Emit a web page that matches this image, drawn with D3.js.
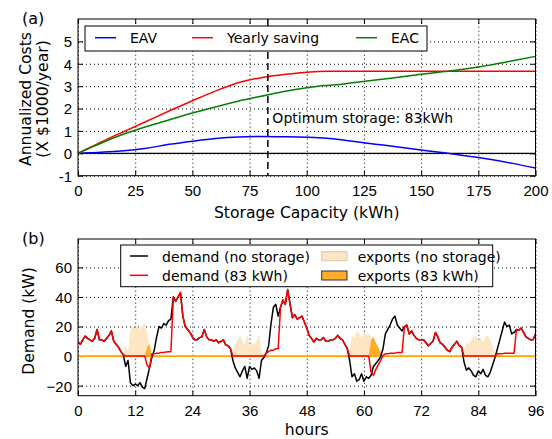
<!DOCTYPE html>
<html>
<head>
<meta charset="utf-8">
<script src="https://cdn.jsdelivr.net/npm/d3@7"></script>
<style>
  body { margin: 0; background: #fff; }
  svg { font-family: "DejaVu Sans", sans-serif; }
</style>
</head>
<body>
<svg id="chart" width="552" height="439"></svg>
<script>
// (a) annualized costs vs storage capacity
const capacity = [0, 5, 10, 20, 30, 40, 50, 60, 70, 80, 90, 100, 105, 110, 120, 130, 140, 150, 160, 170, 180, 190, 200];
const saving   = [0, 0.25, 0.5, 0.97, 1.43, 1.9, 2.35, 2.78, 3.15, 3.38, 3.52, 3.62, 3.66, 3.67, 3.67, 3.67, 3.67, 3.67, 3.67, 3.67, 3.67, 3.67, 3.67];
const eac      = [0, 0.23, 0.45, 0.86, 1.2, 1.5, 1.8, 2.07, 2.33, 2.55, 2.76, 2.93, 3.0, 3.04, 3.15, 3.27, 3.4, 3.53, 3.65, 3.78, 3.94, 4.13, 4.33];
const eav      = [0, 0.02, 0.05, 0.11, 0.23, 0.4, 0.54, 0.66, 0.73, 0.75, 0.74, 0.72, 0.7, 0.66, 0.54, 0.41, 0.28, 0.15, 0.02, -0.12, -0.27, -0.45, -0.66];
const capTicks = [0, 25, 50, 75, 100, 125, 150, 175, 200];
const costTicks = [-1, 0, 1, 2, 3, 4, 5];
const optimum = 83;

// (b) half-hourly demand over four days
const demandNoStorage = [
  9.7, 8, 11, 13.5, 12, 11, 10, 12, 18, 11, 11, 10, 12, 14, 17, 10, 8, 6, 3, 1,
  -7, -3, -18, -20, -19, -20, -18, -21, -22, -15, -8, -1, 4, 13, 20, 19, 22, 21, 24, 25,
  40, 37, 40, 43, 27, 20, 18, 16,
  13, 11, 11, 12.5, 13, 18, 13, 11, 11, 10, 11, 9, 10, 11, 7.5, 7, 5, -3, -8, -11,
  -14, -10, -7, -15, -7, -9, -8, -10, -15, -3, -1, 2, 7, 22, 33, 35, 27, 33, 38, 35,
  45, 35, 26, 28, 25, 26, 27, 23,
  19, 14, 12, 9.5, 12, 11, 11, 12.5, 10, 10, 11, 11, 12, 14, 12, 11, 8, 5, -3, -14,
  -12, -17, -16, -12, -17, -14, -15, -13, -7, -5, -3, -0.5, 5, 15, 18, 21, 25, 27, 21, 19,
  17, 20, 21, 15, 17, 14, 12, 11,
  11, 11, 9, 7, 8.5, 10, 16, 13, 9, 8, 6, 4, 3, 6, 8, 10, 7, 6, -4, -9.5,
  -8, -10, -13, -14, -10, -12, -9, -13, -14, -11, -6, -1, 5, 11, 17, 23, 20, 21, 15, 16,
  18, 17.5, 19, 16, 13, 12, 11, 11, 15
];
const demand83 = [
  9.7, 8, 11, 13.5, 12, 11, 10, 12, 18, 11, 11, 10, 12, 14, 17, 10, 8, 6, 3, 1,
  0, 0, 0, 0, 0, 0, 0, 0, 0, -6, -8, 1.5, 1.5, 2, 2, 2.5, 2.5, 2.8, 3, 3,
  40, 37, 40, 43, 27, 20, 18, 16,
  13, 11, 11, 12.5, 13, 18, 13, 11, 11, 10, 11, 9, 10, 11, 7.5, 7, 5, 0, 0, 0,
  0, 0, 0, 0, 0, 0, 0, 0, 0, 0, 0, 2, 3, 4, 4, 5, 5, 33, 38, 35,
  45, 35, 26, 28, 25, 26, 27, 23,
  19, 14, 12, 9.5, 12, 11, 11, 12.5, 10, 10, 11, 11, 12, 14, 12, 11, 8, 5, 0, 0,
  0, 0, 0, 0, 0, 0, 0, -11, -13, -9, -6, -3, 0.5, 1.5, 1.5, 2, 2, 2, 2.5, 2.5,
  2.5, 20, 21, 15, 17, 14, 12, 11,
  11, 11, 9, 7, 8.5, 10, 16, 13, 9, 8, 6, 4, 3, 6, 8, 10, 7, 6, 0, 0,
  0, 0, 0, 0, 0, 0, 0, 0, 0, 0, 0, 0, 1.5, 1.5, 1.5, 2, 2, 2, 2, 2,
  18, 17.5, 19, 16, 13, 12, 11, 11, 15
];
const hours = d3.range(0, 96.5, 0.5);
const hourTicks = [0, 12, 24, 36, 48, 60, 72, 84, 96];
const demandTicks = [-20, 0, 20, 40, 60];

const svg = d3.select("#chart");
const left = 78, right = 535.5, plotH = 156.7;

// frame, dotted grid and inward ticks on all four sides
function frame(g, x, y, xt, yt, fmtY, w, h) {
  g.append("g").attr("transform", `translate(0,${h})`)
    .call(d3.axisBottom(x).tickValues(xt).tickSize(-h).tickFormat(""))
    .call(a => a.select(".domain").remove())
    .selectAll("line").attr("stroke", "#000").attr("stroke-dasharray", "1,3");
  g.append("g")
    .call(d3.axisLeft(y).tickValues(yt).tickSize(-w).tickFormat(""))
    .call(a => a.select(".domain").remove())
    .selectAll("line").attr("stroke", "#000").attr("stroke-dasharray", "1,3");

  const bx = g.append("g").attr("transform", `translate(0,${h})`)
    .call(d3.axisBottom(x).tickValues(xt).tickSizeInner(-5).tickSizeOuter(0).tickPadding(20.8));
  bx.selectAll("text").attr("dy", "0").attr("font-size", 15).attr("fill", "#000");
  const ly = g.append("g")
    .call(d3.axisLeft(y).tickValues(yt).tickSizeInner(-5).tickSizeOuter(0).tickPadding(6).tickFormat(fmtY));
  ly.selectAll("text").attr("font-size", 15).attr("fill", "#000").attr("dy", "0.36em");
  g.append("g").call(d3.axisTop(x).tickValues(xt).tickSizeInner(-5).tickSizeOuter(0).tickFormat(""));
  g.append("g").attr("transform", `translate(${w},0)`)
    .call(d3.axisRight(y).tickValues(yt).tickSizeInner(-5).tickSizeOuter(0).tickFormat(""));
  g.selectAll(".domain").remove();
  g.selectAll(".tick line").filter(function () { return !this.getAttribute("stroke-dasharray"); })
    .attr("stroke", "#000");
}

function border(g, w, h) {
  g.append("rect").attr("width", w).attr("height", h)
    .attr("fill", "none").attr("stroke", "#000").attr("stroke-width", 1);
}

// ---------- (a) ----------
{
  const top = 19, w = right - left, h = plotH;
  const g = svg.append("g").attr("transform", `translate(${left},${top})`);
  const x = d3.scaleLinear().domain([0, 200]).range([0, w]);
  const y = d3.scaleLinear().domain([-1, 6]).range([h, 0]);

  frame(g, x, y, capTicks, costTicks, d => String(d), w, h);

  g.append("line").attr("x1", 0).attr("x2", w).attr("y1", y(0)).attr("y2", y(0))
    .attr("stroke", "#000").attr("stroke-width", 1.2);

  const series = [
    { name: "EAV", values: eav, color: "#0000ff" },
    { name: "Yearly saving", values: saving, color: "#ff0000" },
    { name: "EAC", values: eac, color: "#008000" }
  ];
  const line = vals => d3.line().x((d, i) => x(capacity[i])).y(d => y(d)).curve(d3.curveMonotoneX)(vals);
  series.forEach(s => {
    g.append("path").attr("d", line(s.values)).attr("fill", "none")
      .attr("stroke", s.color).attr("stroke-width", 1.5);
  });

  g.append("line").attr("x1", x(optimum)).attr("x2", x(optimum)).attr("y1", 0).attr("y2", h)
    .attr("stroke", "#000").attr("stroke-width", 1.5).attr("stroke-dasharray", "7,4");
  g.append("text").attr("x", x(optimum) + 4.5).attr("y", 103.7)
    .attr("font-size", 14).text(`Optimum storage: ${optimum}kWh`);

  // legend
  const lg = g.append("g").attr("transform", "translate(7,7)");
  lg.append("rect").attr("width", 342).attr("height", 25).attr("fill", "#fff").attr("stroke", "#000");
  const lx = [10, 107, 271];
  series.forEach((s, i) => {
    lg.append("line").attr("x1", lx[i]).attr("x2", lx[i] + 21).attr("y1", 11.7).attr("y2", 11.7)
      .attr("stroke", s.color).attr("stroke-width", 1.5);
    lg.append("text").attr("x", lx[i] + 35).attr("y", 16.7).attr("font-size", 14).text(s.name);
  });

  border(g, w, h);

  svg.append("text").attr("x", 22).attr("y", 24).attr("font-size", 16).text("(a)");
  svg.append("text").attr("x", (left + right) / 2).attr("y", 217.5).attr("text-anchor", "middle")
    .attr("font-size", 15.6).text("Storage Capacity (kWh)");
  svg.append("text").attr("transform", "translate(31,99) rotate(-90)").attr("text-anchor", "middle")
    .attr("font-size", 15.6).text("Annualized Costs");
  svg.append("text").attr("transform", "translate(48,99) rotate(-90)").attr("text-anchor", "middle")
    .attr("font-size", 15.6).text("(X $1000/year)");
}

// ---------- (b) ----------
{
  const top = 239, w = right - left, h = plotH;
  const g = svg.append("g").attr("transform", `translate(${left},${top})`);
  const x = d3.scaleLinear().domain([0, 96]).range([0, w]);
  const y = d3.scaleLinear().domain([-26.8, 79.2]).range([h, 0]);

  frame(g, x, y, hourTicks, demandTicks, d3.format(""), w, h);

  g.append("clipPath").attr("id", "clipb").append("rect").attr("width", w).attr("height", h);
  const pg = g.append("g").attr("clip-path", "url(#clipb)");

  const exportArea = d3.area().x((d, i) => x(hours[i])).y0(y(0)).y1(d => y(Math.max(0, -d)));
  pg.append("path").attr("d", exportArea(demandNoStorage)).attr("fill", "#fee5c3");
  pg.append("path").attr("d", exportArea(demand83)).attr("fill", "#ffab2b");

  pg.append("line").attr("x1", 0).attr("x2", w).attr("y1", y(0)).attr("y2", y(0))
    .attr("stroke", "#ffa500").attr("stroke-width", 1.8);

  const line = d3.line().x((d, i) => x(hours[i])).y(d => y(d));
  pg.append("path").attr("d", line(demandNoStorage)).attr("fill", "none")
    .attr("stroke", "#000").attr("stroke-width", 1.5).attr("stroke-linejoin", "round");
  pg.append("path").attr("d", line(demand83)).attr("fill", "none")
    .attr("stroke", "#ff0000").attr("stroke-width", 1.5).attr("stroke-linejoin", "round");

  // legend
  const lg = g.append("g").attr("transform", "translate(42.7,6)");
  lg.append("rect").attr("width", 372).attr("height", 41.7).attr("fill", "#fff").attr("stroke", "#000");
  const lines = [["demand (no storage)", "#000"], ["demand (83 kWh)", "#ff0000"]];
  lines.forEach((l, i) => {
    lg.append("line").attr("x1", 9.3).attr("x2", 27.3).attr("y1", 11 + i * 19.3).attr("y2", 11 + i * 19.3)
      .attr("stroke", l[1]).attr("stroke-width", 1.5);
    lg.append("text").attr("x", 41.3).attr("y", 16.5 + i * 19.3).attr("font-size", 14).text(l[0]);
  });
  const patches = [["exports (no storage)", "#fee5c3", "#d9c7aa"], ["exports (83 kWh)", "#ffab2b", "#333"]];
  patches.forEach((p, i) => {
    lg.append("rect").attr("x", 201).attr("y", 6.7 + i * 19.3).attr("width", 25.3).attr("height", 9)
      .attr("fill", p[1]).attr("stroke", p[2]).attr("stroke-width", 1);
    lg.append("text").attr("x", 237).attr("y", 16.5 + i * 19.3).attr("font-size", 14).text(p[0]);
  });

  border(g, w, h);

  svg.append("text").attr("x", 22).attr("y", 244).attr("font-size", 16).text("(b)");
  svg.append("text").attr("x", (left + right) / 2).attr("y", 434.5).attr("text-anchor", "middle")
    .attr("font-size", 15.6).text("hours");
  svg.append("text").attr("transform", "translate(34,321) rotate(-90)").attr("text-anchor", "middle")
    .attr("font-size", 15.6).text("Demand (kW)");
}
</script>
</body>
</html>
